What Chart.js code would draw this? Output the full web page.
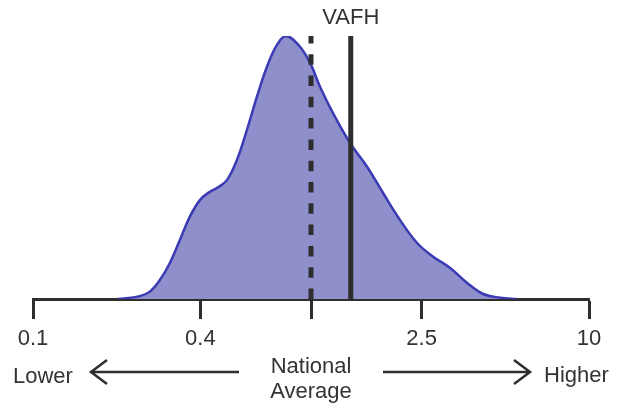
<!DOCTYPE html>
<html>
<head>
<meta charset="utf-8">
<script src="https://cdn.jsdelivr.net/npm/chart.js@4.4.0/dist/chart.umd.min.js"></script>
<style>
  html, body { margin: 0; padding: 0; background: #fff; }
  #wrap { width: 625px; height: 406px; }
</style>
</head>
<body>
<div id="wrap"><canvas id="densityChart" width="625" height="406"></canvas></div>
<script>
// Ratio values (log axis) and density of the curve
const ratioValues = [0.2018, 0.2422, 0.2632, 0.2859, 0.3107, 0.3375, 0.3666, 0.3984, 0.4328, 0.4587,
    0.4983, 0.5414, 0.5882, 0.639, 0.6944, 0.7544, 0.8128, 0.9128, 1.0, 1.0775,
    1.2, 1.382, 1.591, 1.817, 2.092, 2.408, 2.75, 3.167, 3.646, 4.164, 4.793, 5.517];
const densityValues = [0, 0.011, 0.028, 0.072, 0.137, 0.224, 0.313, 0.376, 0.408, 0.422,
    0.452, 0.529, 0.643, 0.769, 0.883, 0.966, 1.0, 0.959, 0.89, 0.807,
    0.707, 0.593, 0.503, 0.403, 0.3, 0.213, 0.161, 0.118, 0.061, 0.019, 0.005, 0];

// Reference lines
const nationalAverage = 1;
const vafhValue = 1.39;

// Axis ticks
const tickValues = [0.1, 0.4, 1, 2.5, 10];
const tickLabels = ['0.1', '0.4', '', '2.5', '10'];

const colors = {
    fill: '#8f8fcb',
    curve: '#3b3bb6',
    dark: '#2e2e2e',
    text: '#333333'
};
const FONT = "'Liberation Sans', Arial, sans-serif";

Chart.defaults.font.family = FONT;

// Extra labels and arrows under the axis
const annotations = {
    id: 'annotations',
    afterDraw(chart) {
        const ctx = chart.ctx;
        const x = chart.scales.x;
        const avgX = x.getPixelForValue(nationalAverage);
        const vafhX = x.getPixelForValue(vafhValue);

        ctx.save();
        ctx.fillStyle = colors.text;
        ctx.font = '22px ' + FONT;
        ctx.textBaseline = 'alphabetic';

        ctx.textAlign = 'center';
        ctx.fillText('VAFH', vafhX, 24);
        ctx.fillText('National', avgX, 373);
        ctx.fillText('Average', avgX, 398);

        ctx.textAlign = 'left';
        ctx.fillText('Lower', 13, 383);
        ctx.fillText('Higher', 544, 382);

        // arrows
        ctx.strokeStyle = colors.dark;
        ctx.lineWidth = 2.5;
        const ay = 372;
        ctx.beginPath();
        ctx.moveTo(239, ay);
        ctx.lineTo(91, ay);
        ctx.moveTo(91 + 16, ay - 12);
        ctx.lineTo(91, ay);
        ctx.lineTo(91 + 16, ay + 12);
        ctx.moveTo(383, ay);
        ctx.lineTo(530, ay);
        ctx.moveTo(530 - 16, ay - 12);
        ctx.lineTo(530, ay);
        ctx.lineTo(530 - 16, ay + 12);
        ctx.stroke();
        ctx.restore();
    }
};

const ctx = document.getElementById('densityChart').getContext('2d');

new Chart(ctx, {
    type: 'line',
    data: {
        datasets: [
            {
                label: 'Distribution',
                data: ratioValues.map((v, i) => ({ x: v, y: densityValues[i] })),
                borderColor: colors.curve,
                backgroundColor: colors.fill,
                borderWidth: 2.5,
                fill: 'origin',
                tension: 0.4,
                pointRadius: 0,
                order: 2
            },
            {
                label: 'National Average',
                data: [{ x: nationalAverage, y: 0 }, { x: nationalAverage, y: 1 }],
                borderColor: colors.dark,
                borderWidth: 5,
                borderDash: [10.5, 10.8],
                pointRadius: 0,
                fill: false,
                order: 1
            },
            {
                label: 'VAFH',
                data: [{ x: vafhValue, y: 0 }, { x: vafhValue, y: 1 }],
                borderColor: colors.dark,
                borderWidth: 5,
                pointRadius: 0,
                fill: false,
                order: 1
            }
        ]
    },
    options: {
        responsive: false,
        animation: false,
        layout: {
            padding: { top: 36, left: 33, right: 36, bottom: 0 }
        },
        plugins: {
            legend: { display: false },
            tooltip: { enabled: false }
        },
        scales: {
            x: {
                type: 'logarithmic',
                min: 0.1,
                max: 10,
                z: 1,
                afterBuildTicks: (scale) => {
                    scale.ticks = tickValues.map(v => ({ value: v }));
                },
                afterFit: (scale) => {
                    scale.height = 107;
                },
                border: { display: true, width: 3, color: colors.dark },
                grid: {
                    drawOnChartArea: false,
                    drawTicks: true,
                    tickLength: 20,
                    tickWidth: 3,
                    tickColor: colors.dark
                },
                ticks: {
                    autoSkip: false,
                    maxRotation: 0,
                    minRotation: 0,
                    padding: 7,
                    color: colors.text,
                    font: { size: 22 },
                    callback: (value) => tickLabels[tickValues.indexOf(value)] ?? ''
                }
            },
            y: {
                display: false,
                min: 0,
                max: 1
            }
        }
    },
    plugins: [annotations]
});
</script>
</body>
</html>
